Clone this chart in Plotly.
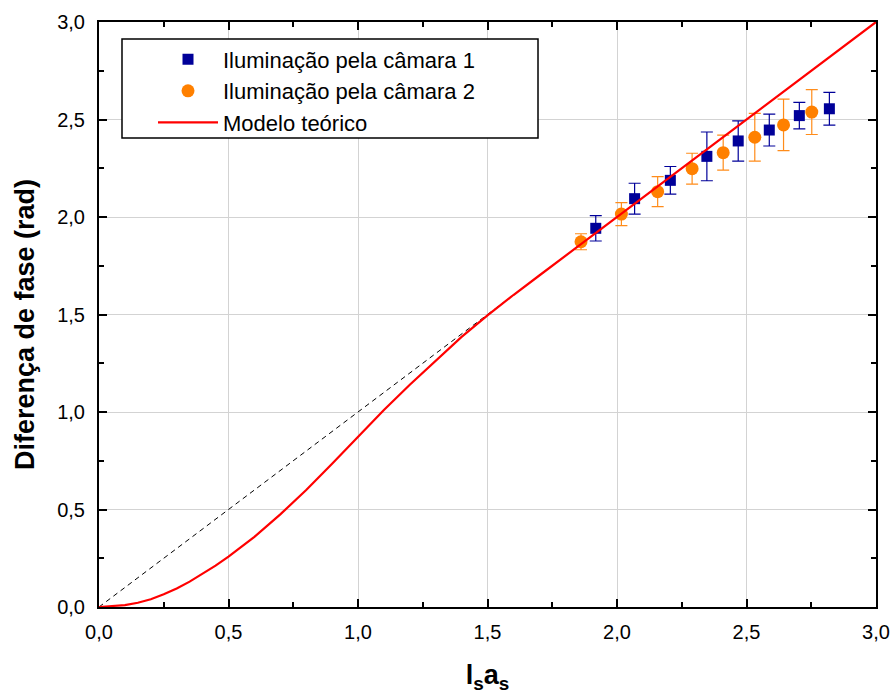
import plotly.graph_objects as go

# Camera 1 (squares)
cam1_x = [1.918, 2.068, 2.206, 2.347, 2.468, 2.588, 2.704, 2.820]
cam1_y = [1.942, 2.094, 2.188, 2.311, 2.390, 2.446, 2.520, 2.555]
cam1_err = [0.065, 0.079, 0.071, 0.125, 0.103, 0.082, 0.068, 0.084]

# Camera 2 (circles)
cam2_x = [1.861, 2.017, 2.157, 2.290, 2.410, 2.532, 2.643, 2.752]
cam2_y = [1.873, 2.015, 2.130, 2.248, 2.330, 2.409, 2.472, 2.538]
cam2_err = [0.041, 0.059, 0.077, 0.079, 0.090, 0.122, 0.132, 0.115]

# Theoretical model
model_x = [0.0, 0.05, 0.1, 0.15, 0.2, 0.25, 0.3, 0.35, 0.4, 0.45, 0.5, 0.6, 0.7, 0.8,
           0.9, 1.0, 1.1, 1.2, 1.3, 1.4, 1.5, 1.6, 1.7, 1.8, 2.0, 2.5, 3.0]
model_y = [0.0, 0.004, 0.010, 0.022, 0.040, 0.065, 0.095, 0.130, 0.170, 0.212, 0.258,
           0.360, 0.475, 0.600, 0.735, 0.872, 1.010, 1.140, 1.265, 1.385, 1.495,
           1.600, 1.700, 1.800, 2.0, 2.5, 3.0]

# Identity reference line
ident_x = [0.0, 3.0]
ident_y = [0.0, 3.0]

tick_vals = [0.0, 0.5, 1.0, 1.5, 2.0, 2.5, 3.0]
tick_text = ["0,0", "0,5", "1,0", "1,5", "2,0", "2,5", "3,0"]

FONT = "Liberation Sans, Arial, Helvetica, sans-serif"

fig = go.Figure()

fig.add_trace(go.Scatter(
    x=ident_x, y=ident_y, mode="lines",
    line=dict(color="black", width=1, dash="5px,4px"),
    showlegend=False, hoverinfo="skip"))

fig.add_trace(go.Scatter(
    x=cam1_x, y=cam1_y, mode="markers", name="Iluminação pela câmara 1",
    marker=dict(symbol="square", size=11, color="#000099"),
    error_y=dict(type="data", array=cam1_err, visible=True,
                 color="#000099", thickness=1.2, width=6)))

fig.add_trace(go.Scatter(
    x=cam2_x, y=cam2_y, mode="markers", name="Iluminação pela câmara 2",
    marker=dict(symbol="circle", size=13, color="#FF8000"),
    error_y=dict(type="data", array=cam2_err, visible=True,
                 color="#FF8C1A", thickness=1.2, width=6)))

fig.add_trace(go.Scatter(
    x=model_x, y=model_y, mode="lines", name="Modelo teórico",
    line=dict(color="#FF0000", width=2.2)))

axis_common = dict(
    range=[0, 3], tickvals=tick_vals, ticktext=tick_text,
    showline=True, linecolor="black", linewidth=2, mirror="ticks",
    ticks="inside", ticklen=8, tickwidth=2, tickcolor="black",
    showgrid=True, gridcolor="#d3d3d3", gridwidth=1,
    zeroline=False, automargin=False,
    minor=dict(ticks="inside", ticklen=5, tickwidth=1.5, tickcolor="black",
               dtick=0.25, tick0=0, showgrid=False),
    tickfont=dict(family=FONT, size=20, color="black"),
)

fig.update_xaxes(**axis_common,
                 ticklabelstandoff=6,
                 title=dict(text="<b>l<sub>s</sub>a<sub>s</sub></b>",
                            font=dict(family=FONT, size=27, color="black"),
                            standoff=23))
fig.update_yaxes(**axis_common, ticklabelstandoff=8)

# Y axis title placed as rotated annotation
fig.add_annotation(text="<b>Diferença de fase (rad)</b>", textangle=-90,
                   xref="paper", yref="paper", x=-0.0952, y=0.482,
                   xanchor="center", yanchor="middle", showarrow=False,
                   font=dict(family=FONT, size=27, color="black"))

# Legend frame drawn as a rectangle (paper coords)
fig.add_shape(type="rect", xref="paper", yref="paper",
              x0=0.0296, x1=0.565, y0=0.8017, y1=0.971,
              line=dict(color="black", width=1.5), fillcolor="white",
              layer="above")

fig.update_layout(
    width=895, height=698,
    margin=dict(l=99, r=19, t=22, b=91),
    paper_bgcolor="white", plot_bgcolor="white",
    font=dict(family=FONT, color="black"),
    legend=dict(x=0.0695, y=0.972, xanchor="left", yanchor="top",
                bgcolor="rgba(0,0,0,0)", borderwidth=0,
                font=dict(family=FONT, size=22, color="black"),
                itemwidth=60, tracegroupgap=0),
)

fig.write_html("out.html")
